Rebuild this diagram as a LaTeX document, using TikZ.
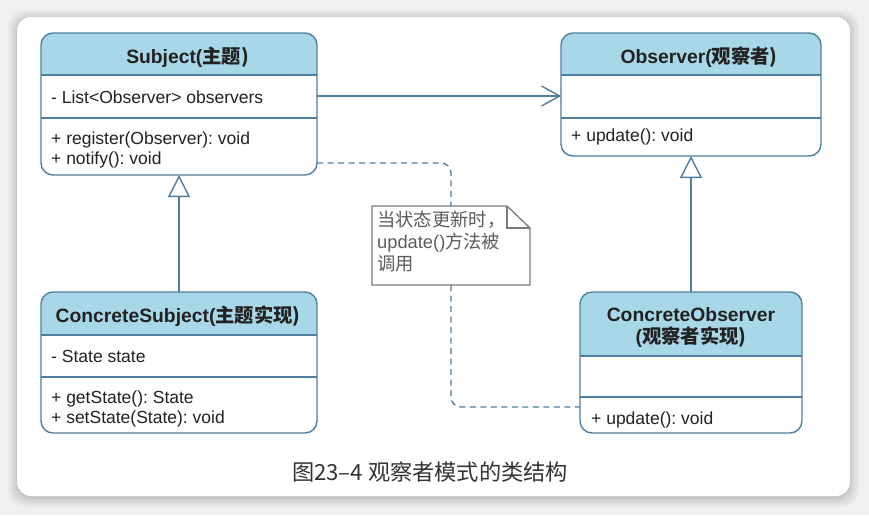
\documentclass[tikz,border=0pt]{standalone}
\usepackage{fontspec}
\setmainfont{Liberation Sans}
\newfontfamily\cjk{Noto Sans CJK SC}
\usetikzlibrary{arrows.meta}
\frenchspacing
\definecolor{headblue}{HTML}{A8D8E8}
\definecolor{lineblue}{HTML}{4F7FA0}
\definecolor{txt}{HTML}{222222}
\definecolor{notegray}{HTML}{7A7A7A}
\definecolor{notetxt}{HTML}{5C5C5C}
\definecolor{captxt}{HTML}{333333}
\definecolor{bggray}{HTML}{F0F0F0}
\newcommand\umlbox[6]{%
  \node[boxshape, minimum width=#3pt, minimum height=#4pt] (#1) at (#2) {};
  \begin{scope}
    \clip[rounded corners=12pt] (#1.south west) rectangle (#1.north east);
    \fill[headblue] (#1.north west) rectangle (#1.east |- 0,#5);
  \end{scope}
  \draw[boxline] (#1.west |- 0,#5) -- (#1.east |- 0,#5);
  \draw[boxline] (#1.west |- 0,#6) -- (#1.east |- 0,#6);
  \draw[boxline, rounded corners=12pt] (#1.south west) rectangle (#1.north east);
}
\begin{document}
\begin{tikzpicture}[x=1pt,y=-1pt,
  boxshape/.style={rectangle, fill=white, inner sep=0pt, outer sep=0pt},
  boxline/.style={draw=lineblue, line width=1.4pt},
  headtext/.style={anchor=base, inner sep=0pt, text=txt, font=\fontsize{19.3}{22}\selectfont\bfseries},
  member/.style={anchor=base west, inner sep=0pt, text=txt, font=\fontsize{17.5}{20}\selectfont},
  notetext/.style={anchor=base west, inner sep=0pt, text=notetxt, font=\fontsize{18.3}{22}\selectfont},
  dashline/.style={draw=lineblue, line width=1.4pt, dash pattern=on 6pt off 4.5pt, rounded corners=10pt},
  notebox/.style={draw=notegray, line width=1.3pt},
]
% background and card
\fill[bggray] (0,0) rectangle (869,515);
\useasboundingbox (0,0) rectangle (869,515);
\foreach \s/\o in {9/0.025,7/0.03,5/0.035,3/0.04,1/0.05}
  \fill[black, opacity=\o, rounded corners=16pt] (17-\s,17-\s+2) rectangle (850+\s,496+\s+2);
\fill[white, rounded corners=14pt] (17,17) rectangle (850,496);

% class boxes
\umlbox{subject}{179,104}{276}{142}{75}{118}
\umlbox{observer}{691,94.5}{260}{123}{75}{118}
\umlbox{csubject}{179,362.5}{276}{141}{335}{377}
\umlbox{cobserver}{691,362.5}{222}{141}{356}{397}

% headers
\node[headtext] (subjectT) at (187.5,63) {Subject(\cjk{主题})};
\node[headtext] (observerT) at (699,63) {Observer(\cjk{观察者})};
\node[headtext] (csubjectT) at (178,322) {ConcreteSubject(\cjk{主题实现})};
\node[headtext] (cobserverT1) at (691,321) {ConcreteObserver};
\node[headtext] (cobserverT2) at (691,343) {(\cjk{观察者实现})};

% members
\node[member] (s1) at (51,103) {- List<Observer> observers};
\node[member] (s2) at (51,144) {+ register(Observer): void};
\node[member] (s3) at (51,164) {+ notify(): void};
\node[member] (o1) at (571,141) {+ update(): void};
\node[member] (cs1) at (51,362) {- State state};
\node[member] (cs2) at (51,403) {+ getState(): State};
\node[member] (cs3) at (51,423) {+ setState(State): void};
\node[member] (co1) at (591,424) {+ update(): void};

% note
\node[inner sep=0pt, outer sep=0pt, minimum width=158pt, minimum height=79pt] (note) at (451,245.5) {};
\draw[notebox, fill=white] (note.north west) -- ([xshift=-23pt]note.north east) -- ([yshift=-22pt]note.north east) -- (note.south east) -- (note.south west) -- cycle;
\draw[notebox] ([xshift=-23pt]note.north east) |- ([yshift=-22pt]note.north east);
\node[notetext] (n1) at (377,226) {\cjk{当状态更新时，}};
\node[notetext] (n2) at (377,248) {update()\cjk{方法被}};
\node[notetext] (n3) at (377,270) {\cjk{调用}};

% connectors
\draw[boxline, -{Straight Barb[length=18pt,width=20pt]}] (subject.east |- 0,96) -- (observer.west |- 0,96);
\draw[boxline, -{Triangle[length=22pt,width=22pt,fill=white]}] (csubject.north) -- (subject.south);
\draw[boxline, -{Triangle[length=22pt,width=22pt,fill=white]}] (cobserver.north) -- (observer.south);
\draw[dashline] ([yshift=12pt]subject.south east) -| (note.north);
\draw[dashline] (note.south) |- ([yshift=26pt]cobserver.south west);

% caption
\node[anchor=base, inner sep=0pt, text=captxt, font=\fontsize{22.2}{25}\selectfont] (caption) at (430,480) {\cjk{图}23–4 \cjk{观察者模式的类结构}};
\end{tikzpicture}
\end{document}
